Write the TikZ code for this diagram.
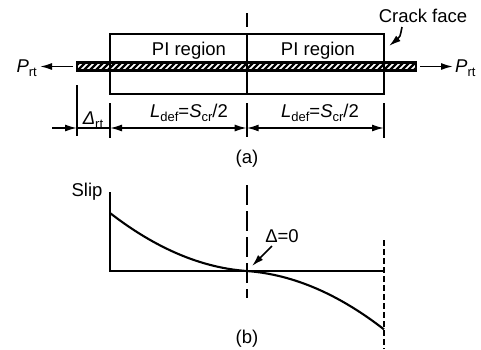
\documentclass[tikz,border=0pt]{standalone}
\usepackage{fontspec}
\setmainfont{Liberation Sans}
\usetikzlibrary{arrows.meta}
\newcommand{\sbs}[1]{\raisebox{-0.22em}{\fontsize{13}{13}\selectfont #1}}
\begin{document}
\begin{tikzpicture}[x=1pt,y=-1pt,
  every node/.style={font=\fontsize{18.5}{20}\selectfont, inner sep=0pt},
  heavy/.style={line width=2.1pt},
  thinl/.style={line width=1.6pt},
  tip/.style={-{Latex[length=12pt,width=7pt]}, line width=1.6pt},
  twotip/.style={{Latex[length=12pt,width=7pt]}-{Latex[length=12pt,width=7pt]}, line width=1.6pt},
  centerline/.style={line width=1.7pt, dash pattern=on 20pt off 6pt},
  dotline/.style={line width=1.8pt, dash pattern=on 6pt off 3pt}]
\useasboundingbox (0,0) rectangle (481,349);
% ---------------- (a) ----------------
\coordinate (bl) at (77,62.5);
\coordinate (br) at (416,70.5);
% hatched bar
\begin{scope}
  \clip (77,62.5) rectangle (416,70.5);
  \foreach \i in {0,...,60}{
    \draw[line width=2.3pt] ({70+\i*6},72) -- ++(10,-10);
  }
\end{scope}
\draw[heavy] (bl) rectangle (br);
% box
\draw[heavy] (110,34) rectangle (384,94);
% center line (a)
\draw[line width=1.7pt] (246.7,13) -- (246.7,27);
\draw[line width=1.7pt] (246.7,34) -- (246.7,94);
\draw[line width=1.7pt] (246.7,103) -- (246.7,137);
% texts
\node[anchor=base] (PI1) at (189,55) {PI region};
\node[anchor=base] (PI2) at (318,55) {PI region};
\node[anchor=base east] (Pl) at (37,72) {\textit{P}\sbs{rt}};
\node[anchor=base west] (Pr) at (455,72) {\textit{P}\sbs{rt}};
\coordinate (plS) at (73,66.5);
\coordinate (plE) at (40,66.5);
\coordinate (prS) at (420,66.5);
\coordinate (prE) at (453,66.5);
\draw[tip] (plS) -- (plE);
\draw[tip] (prS) -- (prE);
\node[anchor=base] (crack) at (423,22) {Crack face};
\coordinate (cf1) at (402,27);
\coordinate (cf2) at (389,46);
\draw[tip] (cf1) .. controls (400,37) .. (cf2);
% extension lines
\draw[thinl] (77,85) -- (77,136);
\draw[thinl] (110,103) -- (110,138);
\draw[thinl] (384,103) -- (384,138);
% dimension line
\coordinate (d0) at (52,128);
\coordinate (d1) at (77,128);
\coordinate (d2) at (110,128);
\coordinate (d3) at (246.7,128);
\coordinate (d4) at (384,128);
\draw[tip] (d0) -- (d1);
\draw[thinl] (d1) -- (d2);
\draw[twotip] (d2) -- (d3);
\draw[twotip] (d3) -- (d4);
\node[anchor=base] (drt) at (93,124) {\textit{Δ}\sbs{rt}};
\node[anchor=base] (dl1) at (189,117) {\textit{L}\sbs{def}=\textit{S}\sbs{cr}/2};
\node[anchor=base] (dl2) at (320,117) {\textit{L}\sbs{def}=\textit{S}\sbs{cr}/2};
\node[anchor=base] (la) at (247,163) {(a)};
% ---------------- (b) ----------------
\coordinate (o) at (110,271);
\coordinate (ytop) at (110,192);
\coordinate (xend) at (384,271);
\draw[heavy] (ytop) -- (o) -- (xend);
\node[anchor=base] (slip) at (87,196) {Slip};
\draw[heavy] (110,213) .. controls (155.6,248.3) and (201.1,267.7) .. (246.7,271)
  .. controls (292.5,274.3) and (338.2,293.8) .. (384,329.4);
\draw[centerline] (246.7,185) -- (246.7,298);
\draw[dotline] (384,240) -- (384,349);
\node[anchor=base] (z) at (282,242) {Δ=0};
\coordinate (za) at (272,246);
\coordinate (zb) at (252,266);
\draw[tip] (za) -- (zb);
\node[anchor=base] (lb) at (247,343) {(b)};
\end{tikzpicture}
\end{document}
